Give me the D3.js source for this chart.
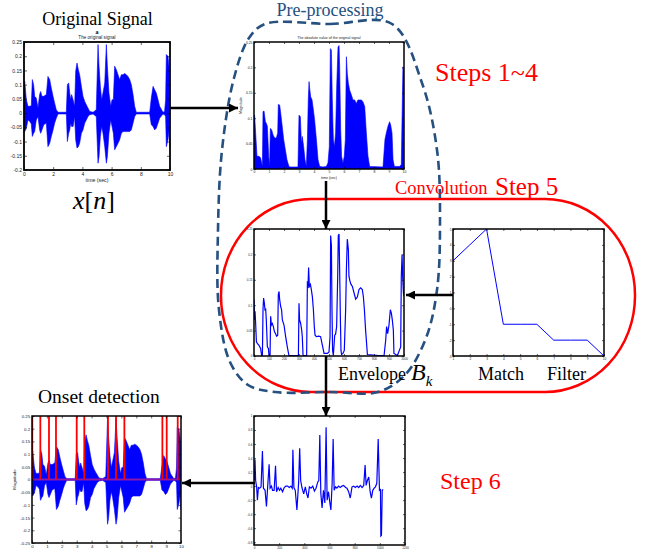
<!DOCTYPE html>
<html lang="en">
<head>
<meta charset="UTF-8">
<title>Onset detection pipeline</title>
<script src="https://d3js.org/d3.v7.min.js"></script>
<style>
  body { margin: 0; background: #fff; }
  svg { display: block; }
</style>
</head>
<body>
<script>
// ---- data ----
// original signal: [time (s), upper envelope, lower envelope]
const origSignal = [
  [0, 0.10, -0.06], [0.05, 0.112, -0.065], [0.16, 0.047, -0.053], [0.27, 0.024, -0.024],
  [0.39, 0.024, -0.029], [0.50, 0.026, -0.038], [0.57, 0.118, -0.082], [0.66, 0.100, -0.071],
  [0.73, 0.059, -0.065], [0.84, 0.053, -0.024], [0.96, 0.018, -0.012], [1.07, 0.065, -0.059],
  [1.14, 0.076, -0.071], [1.23, 0.059, -0.059], [1.35, 0.059, -0.041], [1.53, 0.065, -0.035],
  [1.64, 0.129, -0.118], [1.76, 0.118, -0.106], [1.87, 0.088, -0.082], [1.99, 0.059, -0.059],
  [2.10, 0.035, -0.035], [2.21, 0.012, -0.018], [2.33, 0.003, -0.003], [2.90, 0.003, -0.003],
  [2.97, 0.100, -0.100], [3.06, 0.106, -0.071], [3.13, 0.071, -0.059], [3.20, 0.047, -0.035],
  [3.26, 0.065, -0.047], [3.36, 0.047, -0.047], [3.47, 0.024, -0.012], [3.54, 0.147, -0.094],
  [3.63, 0.176, -0.123], [3.72, 0.153, -0.118], [3.81, 0.135, -0.106], [3.93, 0.094, -0.071],
  [4.04, 0.059, -0.059], [4.16, 0.041, -0.035], [4.27, 0.029, -0.024], [4.38, 0.018, -0.012],
  [4.50, 0.006, -0.006], [4.73, 0.003, -0.003], [4.95, 0.012, -0.012], [5.07, 0.241, -0.176],
  [5.14, 0.165, -0.153], [5.23, 0.094, -0.082], [5.32, 0.047, -0.047], [5.41, 0.071, -0.071],
  [5.53, 0.106, -0.118], [5.64, 0.241, -0.176], [5.71, 0.165, -0.153], [5.82, 0.071, -0.071],
  [5.94, 0.024, -0.024], [6.03, 0.047, -0.047], [6.12, 0.047, -0.071], [6.21, 0.165, -0.129],
  [6.32, 0.153, -0.118], [6.44, 0.135, -0.106], [6.55, 0.118, -0.094], [6.67, 0.135, -0.071],
  [6.78, 0.135, -0.065], [6.89, 0.139, -0.065], [7.01, 0.135, -0.065], [7.12, 0.129, -0.065],
  [7.24, 0.118, -0.065], [7.35, 0.100, -0.059], [7.47, 0.065, -0.035], [7.58, 0.024, -0.012],
  [7.69, 0.003, -0.003], [8.61, 0.003, -0.003], [8.72, 0.053, -0.041], [8.84, 0.094, -0.047],
  [8.95, 0.082, -0.059], [9.06, 0.071, -0.053], [9.18, 0.047, -0.035], [9.29, 0.024, -0.018],
  [9.52, 0.003, -0.003], [9.63, 0.006, -0.006], [9.70, 0.047, -0.012], [9.75, 0.206, -0.118],
  [9.86, 0.200, -0.094], [9.98, 0.141, -0.047], [10, 0.12, -0.12]
];

// absolute value of the signal: [time (s), magnitude]
const absSignal = [
  [0, 0.10], [0.04, 0.106], [0.11, 0.071], [0.20, 0.025], [0.33, 0.025], [0.44, 0.022], [0.56, 0.005],
  [0.60, 0.113], [0.67, 0.114], [0.76, 0.093], [0.82, 0.090], [0.89, 0.084], [0.98, 0.025], [1.04, 0.005],
  [1.09, 0.080], [1.18, 0.077], [1.27, 0.067], [1.38, 0.061], [1.49, 0.061], [1.58, 0.071], [1.62, 0.127],
  [1.71, 0.126], [1.78, 0.110], [1.87, 0.087], [1.98, 0.058], [2.09, 0.038], [2.20, 0.018], [2.33, 0.005],
  [2.42, 0.004], [2.93, 0.004], [3.00, 0.106], [3.09, 0.103], [3.16, 0.051], [3.22, 0.064], [3.31, 0.044],
  [3.40, 0.018], [3.49, 0.005], [3.56, 0.058], [3.62, 0.139], [3.67, 0.172], [3.71, 0.159], [3.78, 0.142],
  [3.87, 0.136], [3.96, 0.116], [4.04, 0.097], [4.16, 0.058], [4.27, 0.018], [4.38, 0.005], [4.60, 0.004],
  [4.82, 0.005], [4.93, 0.012], [5.02, 0.044], [5.09, 0.237], [5.16, 0.234], [5.22, 0.136], [5.29, 0.058],
  [5.36, 0.044], [5.44, 0.071], [5.51, 0.159], [5.60, 0.240], [5.67, 0.243], [5.71, 0.201], [5.78, 0.077],
  [5.84, 0.025], [5.93, 0.012], [6.02, 0.025], [6.09, 0.058], [6.16, 0.221], [6.22, 0.188], [6.29, 0.169],
  [6.38, 0.155], [6.49, 0.146], [6.60, 0.136], [6.71, 0.136], [6.82, 0.129], [6.93, 0.136], [7.04, 0.136],
  [7.16, 0.136], [7.27, 0.132], [7.38, 0.123], [7.49, 0.071], [7.60, 0.025], [7.71, 0.005], [8.60, 0.004],
  [8.73, 0.058], [8.82, 0.071], [8.93, 0.084], [9.04, 0.093], [9.11, 0.087], [9.20, 0.071], [9.27, 0.018],
  [9.36, 0.005], [9.71, 0.005], [9.82, 0.009], [9.89, 0.136], [9.93, 0.201], [10, 0.195]
];

// envelope B_k: [frame, value]
const envelope = [
  [0, 0.111], [4, 0.071], [7, 0.088], [11, 0.064], [16, 0.028], [22, 0.025], [33, 0.021], [44, 0.015],
  [51, 0.001], [56, 0.001], [60, 0.091], [64, 0.114], [69, 0.104], [73, 0.091], [78, 0.092], [82, 0.071],
  [89, 0.018], [96, 0.015], [100, 0.001], [107, 0.001], [111, 0.078], [116, 0.061], [122, 0.064], [129, 0.058],
  [136, 0.048], [144, 0.044], [151, 0.039], [158, 0.041], [162, 0.121], [167, 0.127], [171, 0.111], [178, 0.097],
  [184, 0.091], [189, 0.071], [200, 0.061], [211, 0.038], [222, 0.018], [233, 0.001], [278, 0.001], [296, 0.001],
  [300, 0.104], [304, 0.071], [311, 0.064], [318, 0.051], [322, 0.038], [327, 0.001], [351, 0.001], [356, 0.147],
  [360, 0.134], [364, 0.174], [369, 0.137], [376, 0.141], [382, 0.131], [389, 0.117], [396, 0.091], [402, 0.058],
  [407, 0.041], [416, 0.038], [433, 0.039], [444, 0.038], [456, 0.021], [467, 0.005], [489, 0.005], [500, 0.008],
  [507, 0.038], [511, 0.237], [516, 0.217], [520, 0.091], [524, 0.011], [529, 0.001], [538, 0.041], [544, 0.043],
  [551, 0.058], [558, 0.157], [562, 0.237], [567, 0.240], [571, 0.170], [576, 0.071], [580, 0.011], [584, 0.003],
  [593, 0.005], [602, 0.011], [611, 0.091], [616, 0.170], [622, 0.230], [629, 0.210], [633, 0.157], [640, 0.147],
  [647, 0.141], [656, 0.137], [667, 0.124], [678, 0.112], [689, 0.116], [700, 0.131], [711, 0.134], [722, 0.131],
  [729, 0.117], [736, 0.091], [744, 0.051], [756, 0.003], [833, 0.001], [867, 0.001], [878, 0.031], [884, 0.058],
  [891, 0.044], [900, 0.061], [909, 0.091], [916, 0.084], [922, 0.071], [929, 0.051], [933, 0.005], [956, 0.001],
  [978, 0.018], [982, 0.157], [987, 0.200], [991, 0.157], [996, 0.124], [1000, 0.117]
];

// match filter taps
const filterIndex = [1, 2, 3, 4, 5, 6, 7, 8, 9, 10];
const filterTaps = [3, 4, 5, -1, -1, -1, -2, -2, -2, -3];

// detection function after convolution: [frame, value]
const detection = [
  [3, 0.08], [8, 0.38], [13, 0.08], [21, -0.01], [27, -0.20], [35, -0.02], [45, -0.03], [56, -0.01],
  [67, 0.50], [75, -0.03], [88, -0.06], [99, -0.29], [109, 0], [120, 0.31], [128, -0.03], [139, 0],
  [147, -0.06], [160, -0.06], [171, 0.29], [179, -0.08], [192, -0.02], [203, -0.06], [213, -0.03], [227, -0.08],
  [240, -0.02], [253, 0], [267, 0], [280, -0.02], [293, 0], [304, -0.03], [309, 0.52], [317, -0.02],
  [328, -0.06], [341, -0.34], [355, 0.06], [363, 0.54], [371, 0.08], [381, -0.02], [395, -0.11], [408, -0.01],
  [419, -0.11], [429, -0.17], [440, -0.01], [453, -0.03], [467, 0], [480, -0.07], [493, -0.03], [507, 0.06],
  [515, 0.08], [523, 0.73], [531, -0.10], [541, -0.31], [552, -0.06], [563, -0.24], [573, 0.84], [581, -0.20],
  [592, -0.08], [603, -0.24], [611, -0.34], [621, 0.04], [629, 0.67], [637, -0.06], [648, -0.01], [659, -0.03],
  [672, 0], [685, -0.02], [699, 0], [712, 0.01], [728, -0.02], [739, -0.03], [752, -0.08], [765, -0.17],
  [779, -0.01], [792, 0], [805, -0.02], [819, 0], [832, -0.02], [845, 0.01], [859, -0.02], [872, 0.01],
  [883, 0.30], [891, 0.01], [901, 0.08], [912, 0.13], [923, -0.08], [933, -0.17], [944, -0.06], [955, -0.03],
  [965, -0.01], [976, 0.04], [987, 0.67], [997, -0.06], [1005, -0.05], [1008, -0.71], [1013, -0.70], [1019, -0.06],
  [1027, -0.05]
];

// detected onsets (s)
const onsets = [0.02, 0.56, 1.14, 1.61, 3.0, 3.51, 5.1, 5.64, 6.2, 8.75, 9.04, 9.78];

// tick values
const ticksSec2 = [0, 2, 4, 6, 8, 10];
const ticksSec1 = [0, 1, 2, 3, 4, 5, 6, 7, 8, 9, 10];
const ticksOrig = [-0.2, -0.15, -0.1, -0.05, 0, 0.05, 0.1, 0.15, 0.2, 0.25];
const ticksAbs = [0, 0.05, 0.1, 0.15, 0.2, 0.25];
const ticksFrames = [0, 100, 200, 300, 400, 500, 600, 700, 800, 900, 1000];
const ticksFilterY = [-3, -2, -1, 0, 1, 2, 3, 4, 5];
const ticksDetX = [0, 200, 400, 600, 800, 1000, 1200];
const ticksDetY = [-0.8, -0.6, -0.4, -0.2, 0, 0.2, 0.4, 0.6, 0.8, 1];
const ticksOnsetY = [-0.25, -0.2, -0.15, -0.1, -0.05, 0, 0.05, 0.1, 0.15, 0.2, 0.25];

// ---- drawing ----
const SERIF = "'Liberation Serif', 'Times New Roman', serif";
const SANS = "'Liberation Sans', Arial, sans-serif";
const BLUE = "#0000ff";
const RED = "#ff0000";

const svg = d3.select("body").append("svg").attr("width", 647).attr("height", 551);

svg.append("defs").append("marker")
    .attr("id", "arrow")
    .attr("viewBox", "0 0 10 10")
    .attr("refX", 10).attr("refY", 5)
    .attr("markerUnits", "userSpaceOnUse")
    .attr("markerWidth", 9).attr("markerHeight", 9)
    .attr("orient", "auto")
  .append("path").attr("d", "M0,0 L10,5 L0,10 Z").attr("fill", "#000");

// red convolution outline and the dashed pre-processing outline
svg.append("rect")
    .attr("x", 221).attr("y", 199).attr("width", 414).attr("height", 193)
    .attr("rx", 90).attr("ry", 96)
    .attr("fill", "none").attr("stroke", RED).attr("stroke-width", 2.5);

const dashPts = [[265, 24], [330, 24], [392, 24], [422, 83], [437, 150], [440, 220], [437, 290],
  [426, 338], [405, 375], [378, 392], [330, 392], [275, 392], [248, 385], [230, 362], [219, 310],
  [218, 230], [222, 150], [234, 78], [249, 38]];
svg.append("path")
    .attr("d", d3.line().curve(d3.curveCatmullRomClosed.alpha(0.5))(dashPts))
    .attr("fill", "none").attr("stroke", "#25507f").attr("stroke-width", 2.6)
    .attr("stroke-dasharray", "9,5");

function panel(o) {
  const g = svg.append("g").attr("transform", `translate(${o.x},${o.y})`);
  const x = d3.scaleLinear().domain(o.xDomain).range([0, o.w]);
  const y = d3.scaleLinear().domain(o.yDomain).range([o.h, 0]);
  g.append("clipPath").attr("id", "clip-" + o.name)
    .append("rect").attr("width", o.w).attr("height", o.h);
  g.append("rect").attr("width", o.w).attr("height", o.h).attr("fill", "#fff");
  const plot = g.append("g").attr("clip-path", `url(#clip-${o.name})`);

  const fmt = d => String(+d.toFixed(3));
  const style = a => {
    a.attr("font-size", o.fs).attr("font-family", SANS);
    a.select(".domain").remove();
    a.selectAll("line").attr("stroke", "#000").attr("stroke-width", 0.6);
    a.selectAll("text").attr("fill", "#222");
  };
  g.append("g").attr("transform", `translate(0,${o.h})`)
    .call(d3.axisBottom(x).tickValues(o.xTicks).tickSize(-o.tk).tickPadding(o.pad).tickFormat(fmt))
    .call(style);
  g.append("g")
    .call(d3.axisLeft(y).tickValues(o.yTicks).tickSize(-o.tk).tickPadding(o.pad).tickFormat(fmt))
    .call(style);
  g.append("g")
    .call(d3.axisTop(x).tickValues(o.xTicks).tickSize(-o.tk).tickFormat(""))
    .call(style);
  g.append("g").attr("transform", `translate(${o.w},0)`)
    .call(d3.axisRight(y).tickValues(o.yTicks).tickSize(-o.tk).tickFormat(""))
    .call(style);
  g.append("rect").attr("width", o.w).attr("height", o.h)
    .attr("fill", "none").attr("stroke", "#000").attr("stroke-width", o.sw || 1.5);

  if (o.title) g.append("text").attr("x", o.w / 2).attr("y", -3.5)
    .attr("text-anchor", "middle").attr("font-family", SANS).attr("font-size", o.tfs)
    .attr("fill", "#222").text(o.title);
  if (o.xlabel) g.append("text").attr("x", o.w / 2).attr("y", o.h + o.xly)
    .attr("text-anchor", "middle").attr("font-family", SANS).attr("font-size", o.lfs)
    .attr("fill", "#222").text(o.xlabel);
  if (o.ylabel) g.append("text")
    .attr("transform", `translate(${o.ylx},${o.h / 2}) rotate(-90)`)
    .attr("text-anchor", "middle").attr("font-family", SANS).attr("font-size", o.lfs)
    .attr("fill", "#222").text(o.ylabel);
  return { plot, x, y };
}

// 1. original signal
{
  const p = panel({ name: "orig", x: 24, y: 42, w: 146, h: 128, xDomain: [0, 10], yDomain: [-0.2, 0.25],
    xTicks: ticksSec2, yTicks: ticksOrig, fs: 5, tk: 3, pad: 2, sw: 1.8,
    title: "The original signal", tfs: 4.6, xlabel: "time (sec)", xly: 12, lfs: 5.2 });
  p.plot.append("path").datum(origSignal)
    .attr("d", d3.area().x(d => p.x(d[0])).y0(d => p.y(d[2])).y1(d => p.y(d[1])))
    .attr("fill", BLUE).attr("stroke", BLUE).attr("stroke-width", 0.6);
}

// 2. absolute value
{
  const p = panel({ name: "abs", x: 254, y: 42, w: 150, h: 127, xDomain: [0, 10], yDomain: [0, 0.25],
    xTicks: ticksSec1, yTicks: ticksAbs, fs: 3.4, tk: 2, pad: 1.5,
    title: "The absolute value of the original signal", tfs: 3.6,
    xlabel: "time (sec)", xly: 10, lfs: 3.6, ylabel: "Magnitude", ylx: -12 });
  p.plot.append("path").datum(absSignal)
    .attr("d", d3.area().x(d => p.x(d[0])).y0(p.y(0)).y1(d => p.y(d[1])))
    .attr("fill", BLUE).attr("stroke", BLUE).attr("stroke-width", 0.6);
}

// 3. envelope
{
  const p = panel({ name: "env", x: 254, y: 229, w: 150, h: 127, xDomain: [0, 1000], yDomain: [0, 0.25],
    xTicks: ticksFrames, yTicks: ticksAbs, fs: 3, tk: 2, pad: 1.5 });
  p.plot.append("path").datum(envelope)
    .attr("d", d3.line().x(d => p.x(d[0])).y(d => p.y(d[1])))
    .attr("fill", "none").attr("stroke", BLUE).attr("stroke-width", 1.2);
}

// 4. match filter
{
  const p = panel({ name: "filt", x: 453, y: 229, w: 151, h: 127, xDomain: [1, 10], yDomain: [-3, 5],
    xTicks: filterIndex, yTicks: ticksFilterY, fs: 3.2, tk: 2, pad: 1.5 });
  p.plot.append("path").datum(d3.zip(filterIndex, filterTaps))
    .attr("d", d3.line().x(d => p.x(d[0])).y(d => p.y(d[1])))
    .attr("fill", "none").attr("stroke", BLUE).attr("stroke-width", 1);
}

// 5. detection function
{
  const p = panel({ name: "det", x: 254, y: 416, w: 151, h: 129, xDomain: [0, 1200], yDomain: [-0.84, 1],
    xTicks: ticksDetX, yTicks: ticksDetY, fs: 3, tk: 2, pad: 1.5 });
  p.plot.append("path").datum(detection)
    .attr("d", d3.line().x(d => p.x(d[0])).y(d => p.y(d[1])))
    .attr("fill", "none").attr("stroke", BLUE).attr("stroke-width", 1.2);
}

// 6. onset detection result
{
  const p = panel({ name: "onset", x: 32, y: 416, w: 149, h: 127, xDomain: [0, 10], yDomain: [-0.25, 0.25],
    xTicks: ticksSec1, yTicks: ticksOnsetY, fs: 4.4, tk: 2.5, pad: 1.8,
    ylabel: "Magnitude", ylx: -16, lfs: 4.4 });
  p.plot.append("path").datum(origSignal)
    .attr("d", d3.area().x(d => p.x(d[0])).y0(d => p.y(d[2])).y1(d => p.y(d[1])))
    .attr("fill", BLUE).attr("stroke", BLUE).attr("stroke-width", 0.6);
  p.plot.append("line")
    .attr("x1", p.x(0)).attr("x2", p.x(10)).attr("y1", p.y(0)).attr("y2", p.y(0))
    .attr("stroke", "#8a18a8").attr("stroke-width", 2);
  p.plot.selectAll("line.onset").data(onsets).join("line").attr("class", "onset")
    .attr("x1", d => p.x(d)).attr("x2", d => p.x(d))
    .attr("y1", p.y(0)).attr("y2", p.y(0.25))
    .attr("stroke", RED).attr("stroke-width", 1.8);
}

// arrows between stages
const arrows = [[170, 108, 238, 108], [326, 181, 326, 229], [453, 295, 406, 295],
  [326, 356, 326, 416], [255, 483, 182, 483]];
svg.selectAll("line.arrow").data(arrows).join("line").attr("class", "arrow")
  .attr("x1", d => d[0]).attr("y1", d => d[1]).attr("x2", d => d[2]).attr("y2", d => d[3])
  .attr("stroke", "#000").attr("stroke-width", 2.5).attr("marker-end", "url(#arrow)");

// labels
function label(txt, x, y, size, fill, anchor) {
  return svg.append("text").attr("x", x).attr("y", y).attr("font-family", SERIF)
    .attr("font-size", size).attr("fill", fill || "#000")
    .attr("text-anchor", anchor || "start").text(txt);
}
label("Original Signal", 97.5, 24.5, 18, "#000", "middle");
svg.append("text").attr("x", 97).attr("y", 34).attr("font-family", SERIF).attr("font-weight", "bold")
  .attr("font-size", 6).attr("text-anchor", "middle").text("a");
label("Pre-processing", 330, 16, 18, "#25507f", "middle");
label("Steps 1~4", 435, 81, 26, RED);
label("Convolution", 395, 194, 18.5, RED);
label("Step 5", 495, 195, 25, RED);
label("Step 6", 440, 489, 24, RED);
label("Onset detection", 38, 403, 19.5);
label("Envelope", 338, 380, 18);
label("Match", 478, 380, 18);
label("Filter", 547, 380, 18);

const bk = svg.append("text").attr("x", 411).attr("y", 380).attr("font-family", SERIF);
bk.append("tspan").attr("font-style", "italic").attr("font-size", 24).text("B");
bk.append("tspan").attr("font-style", "italic").attr("font-size", 15).attr("dy", 6).text("k");

const xn = svg.append("text").attr("x", 73).attr("y", 209).attr("font-family", SERIF).attr("font-size", 26);
xn.append("tspan").attr("font-style", "italic").text("x");
xn.append("tspan").text("[");
xn.append("tspan").attr("font-style", "italic").text("n");
xn.append("tspan").text("]");
</script>
</body>
</html>
